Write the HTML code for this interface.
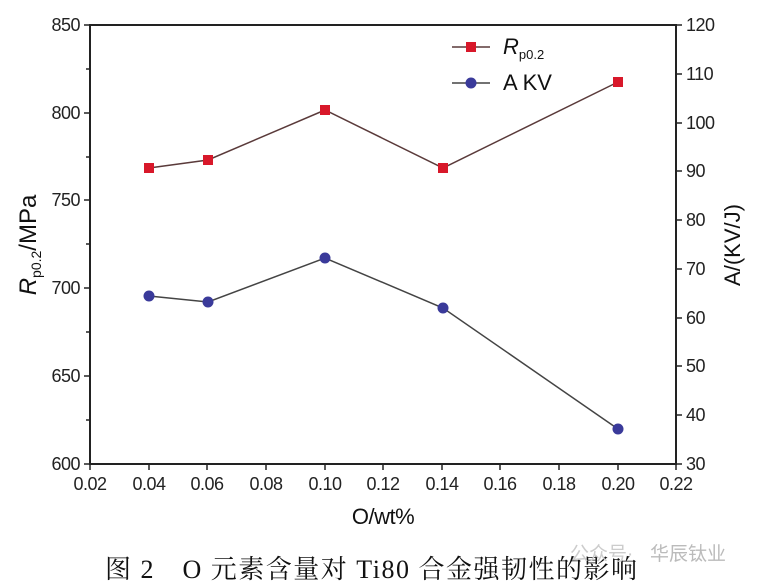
<!DOCTYPE html>
<html><head><meta charset="utf-8"><style>
body{margin:0;background:#fff;}
svg{display:block;font-family:"Liberation Sans",sans-serif;}
</style></head><body>
<svg width="758" height="585" viewBox="0 0 758 585" xmlns="http://www.w3.org/2000/svg">
<rect width="758" height="585" fill="#fff"/>
<rect x="90" y="25" width="586" height="439" fill="none" stroke="#222" stroke-width="2"/>
<g stroke="#222" stroke-width="1.5">
<line x1="84" y1="25" x2="90" y2="25"/><line x1="84" y1="113" x2="90" y2="113"/><line x1="84" y1="200" x2="90" y2="200"/><line x1="84" y1="288" x2="90" y2="288"/><line x1="84" y1="376" x2="90" y2="376"/><line x1="84" y1="464" x2="90" y2="464"/>
<line x1="86" y1="69" x2="90" y2="69"/><line x1="86" y1="157" x2="90" y2="157"/><line x1="86" y1="244" x2="90" y2="244"/><line x1="86" y1="332" x2="90" y2="332"/><line x1="86" y1="420" x2="90" y2="420"/>
<line x1="676" y1="25" x2="682" y2="25"/><line x1="676" y1="74" x2="682" y2="74"/><line x1="676" y1="123" x2="682" y2="123"/><line x1="676" y1="171" x2="682" y2="171"/><line x1="676" y1="220" x2="682" y2="220"/><line x1="676" y1="269" x2="682" y2="269"/><line x1="676" y1="318" x2="682" y2="318"/><line x1="676" y1="366" x2="682" y2="366"/><line x1="676" y1="415" x2="682" y2="415"/><line x1="676" y1="464" x2="682" y2="464"/>
<line x1="90" y1="464" x2="90" y2="470"/><line x1="149" y1="464" x2="149" y2="470"/><line x1="207" y1="464" x2="207" y2="470"/><line x1="266" y1="464" x2="266" y2="470"/><line x1="325" y1="464" x2="325" y2="470"/><line x1="383" y1="464" x2="383" y2="470"/><line x1="442" y1="464" x2="442" y2="470"/><line x1="500" y1="464" x2="500" y2="470"/><line x1="559" y1="464" x2="559" y2="470"/><line x1="618" y1="464" x2="618" y2="470"/><line x1="676" y1="464" x2="676" y2="470"/>
</g>
<g font-size="18" fill="#222" text-anchor="end" letter-spacing="-0.5">
<text x="80" y="31">850</text><text x="80" y="119">800</text><text x="80" y="206">750</text><text x="80" y="294">700</text><text x="80" y="382">650</text><text x="80" y="470">600</text>
</g>
<g font-size="18" fill="#222" letter-spacing="-0.5">
<text x="686" y="31">120</text><text x="686" y="80">110</text><text x="686" y="129">100</text><text x="686" y="177">90</text><text x="686" y="226">80</text><text x="686" y="275">70</text><text x="686" y="324">60</text><text x="686" y="372">50</text><text x="686" y="421">40</text><text x="686" y="470">30</text>
</g>
<g font-size="18" fill="#222" text-anchor="middle" letter-spacing="-0.5">
<text x="90" y="490">0.02</text><text x="149" y="490">0.04</text><text x="207" y="490">0.06</text><text x="266" y="490">0.08</text><text x="325" y="490">0.10</text><text x="383" y="490">0.12</text><text x="442" y="490">0.14</text><text x="500" y="490">0.16</text><text x="559" y="490">0.18</text><text x="618" y="490">0.20</text><text x="676" y="490">0.22</text>
<text x="383" y="524" font-size="22" fill="#111">O/wt%</text>
</g>
<text transform="translate(36,245) rotate(-90)" text-anchor="middle" font-size="24" fill="#111"><tspan font-style="italic">R</tspan><tspan font-size="14" dy="5">p0.2</tspan><tspan dy="-5">/MPa</tspan></text>
<text transform="translate(740,245) rotate(-90)" text-anchor="middle" font-size="22" fill="#111">A/(KV/J)</text>
<polyline points="149,168 208,160 325,110 443,168 618,82" fill="none" stroke="#5a3a3a" stroke-width="1.5"/>
<polyline points="149,296 208,302 325,258 443,308 618,429" fill="none" stroke="#444" stroke-width="1.5"/>
<g fill="#d8182a"><rect x="144" y="163" width="10" height="10"/><rect x="203" y="155" width="10" height="10"/><rect x="320" y="105" width="10" height="10"/><rect x="438" y="163" width="10" height="10"/><rect x="613" y="77" width="10" height="10"/></g>
<g fill="#3a3a9a"><circle cx="149" cy="296" r="5.5"/><circle cx="208" cy="302" r="5.5"/><circle cx="325" cy="258" r="5.5"/><circle cx="443" cy="308" r="5.5"/><circle cx="618" cy="429" r="5.5"/></g>
<line x1="452" y1="47" x2="490" y2="47" stroke="#5a3a3a" stroke-width="1.5"/><rect x="466" y="42" width="10" height="10" fill="#d8182a"/>
<text x="503" y="54" font-size="22" fill="#111"><tspan font-style="italic">R</tspan><tspan font-size="13" dy="5">p0.2</tspan></text>
<line x1="452" y1="83" x2="490" y2="83" stroke="#444" stroke-width="1.5"/><circle cx="471" cy="83" r="5.5" fill="#3a3a9a"/>
<text x="503" y="90" font-size="22" fill="#111">A KV</text>
<text x="105" y="578" font-size="26" letter-spacing="1.5" fill="#111" font-family="'Liberation Serif','Noto Serif CJK SC',serif">图 2　O 元素含量对 Ti80 合金强韧性的影响</text>
<text x="650" y="560" font-size="19" fill="#bbb" font-family="'Liberation Sans','Noto Sans CJK SC',sans-serif">华辰钛业</text>
<text x="570" y="560" font-size="19" fill="#ccc" font-family="'Liberation Sans','Noto Sans CJK SC',sans-serif">公众号·</text>
</svg>
</body></html>
